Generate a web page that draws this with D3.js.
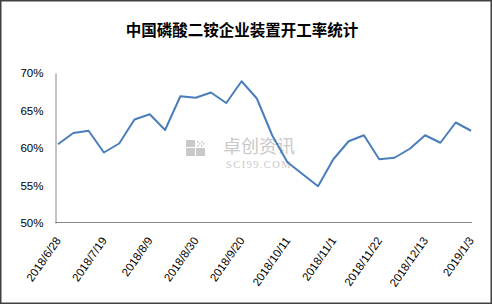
<!DOCTYPE html>
<html lang="zh">
<head>
<meta charset="utf-8">
<title>中国磷酸二铵企业装置开工率统计</title>
<script src="https://cdn.jsdelivr.net/npm/d3@7"></script>
<style>
  body { margin: 0; background: #fff; }
  svg { display: block; }
  .tick text { font-family: "Liberation Sans", Arial, sans-serif; fill: #000; }
</style>
</head>
<body>
<svg width="492" height="304"></svg>
<script>
// weekly dates (x categories)
var dates = ["2018/6/28","2018/7/5","2018/7/12","2018/7/19","2018/7/26","2018/8/2","2018/8/9",
  "2018/8/16","2018/8/23","2018/8/30","2018/9/6","2018/9/13","2018/9/20","2018/9/27",
  "2018/10/4","2018/10/11","2018/10/18","2018/10/25","2018/11/1","2018/11/8","2018/11/15",
  "2018/11/22","2018/11/29","2018/12/6","2018/12/13","2018/12/20","2018/12/27","2019/1/3"];

// operating rate, %
var rates = [60.5, 62.0, 62.3, 59.4, 60.6, 63.8, 64.5, 62.4, 66.9, 66.7, 67.4, 66.0, 68.9, 66.6,
  61.7, 58.1, 56.5, 54.9, 58.5, 60.9, 61.7, 58.5, 58.7, 59.9, 61.7, 60.7, 63.4, 62.3];

var yTicks = [50, 55, 60, 65, 70];
var shownDates = ["2018/6/28","2018/7/19","2018/8/9","2018/8/30","2018/9/20","2018/10/11",
  "2018/11/1","2018/11/22","2018/12/13","2019/1/3"];

var title = "中国磷酸二铵企业装置开工率统计";

var svg = d3.select("svg");

// outer frame
svg.append("rect")
  .attr("x", 0.75).attr("y", 0.75)
  .attr("width", 490.5).attr("height", 302.5)
  .attr("fill", "#fff")
  .attr("stroke", "#404040")
  .attr("stroke-width", 1.5);

svg.append("text")
  .attr("x", 242).attr("y", 36)
  .attr("text-anchor", "middle")
  .style("font-family", "'Noto Sans CJK SC', sans-serif")
  .style("font-size", "15.5px")
  .style("font-weight", "bold")
  .text(title);

var x = d3.scalePoint().domain(dates).range([58, 471]);
var y = d3.scaleLinear().domain([50, 70]).range([223, 73]);

// watermark
var wm = svg.append("g").attr("fill", "#c9c9c9");
wm.append("rect").attr("x", 186).attr("y", 140).attr("width", 9).attr("height", 7);
wm.append("rect").attr("x", 186).attr("y", 148).attr("width", 9).attr("height", 8);
wm.append("rect").attr("x", 196).attr("y", 148).attr("width", 9).attr("height", 8);
[[197,141],[201,141],[199,143],[197,145],[201,145],[203,143]].forEach(function(p) {
  wm.append("rect").attr("x", p[0]).attr("y", p[1]).attr("width", 1.6).attr("height", 1.6);
});
wm.append("text").attr("x", 259).attr("y", 153)
  .attr("text-anchor", "middle")
  .style("font-family", "'Noto Sans CJK SC', sans-serif")
  .style("font-size", "18px")
  .text("卓创资讯");
wm.append("text").attr("x", 259).attr("y", 168)
  .attr("text-anchor", "middle")
  .style("font-family", "'Liberation Serif', serif")
  .style("font-size", "10.5px")
  .style("letter-spacing", "1.4px")
  .text("SCI99.COM");

// axes
var yAxis = svg.append("g")
  .attr("transform", "translate(55.5,0)")
  .call(d3.axisLeft(y).tickValues(yTicks).tickSize(0).tickPadding(12)
    .tickFormat(function(d) { return d + "%"; }));
yAxis.select(".domain").attr("stroke", "#868686");
yAxis.selectAll("text").style("font-size", "11.5px");

var xAxis = svg.append("g")
  .attr("transform", "translate(0,222.5)")
  .call(d3.axisBottom(x).tickValues(shownDates).tickSize(0).tickPadding(0));
xAxis.select(".domain").attr("stroke", "#868686").attr("d", "M55.5,0H472");
xAxis.selectAll("text")
  .style("font-size", "11.5px")
  .attr("text-anchor", "end")
  .attr("dy", null)
  .attr("y", 0)
  .attr("transform", "translate(3,18) rotate(-55)");

// line
var line = d3.line()
  .x(function(d, i) { return x(dates[i]); })
  .y(function(d) { return y(d); });

svg.append("path")
  .datum(rates)
  .attr("fill", "none")
  .attr("stroke", "#4a7ebb")
  .attr("stroke-width", 2)
  .attr("stroke-linejoin", "round")
  .attr("d", line);
</script>
</body>
</html>
